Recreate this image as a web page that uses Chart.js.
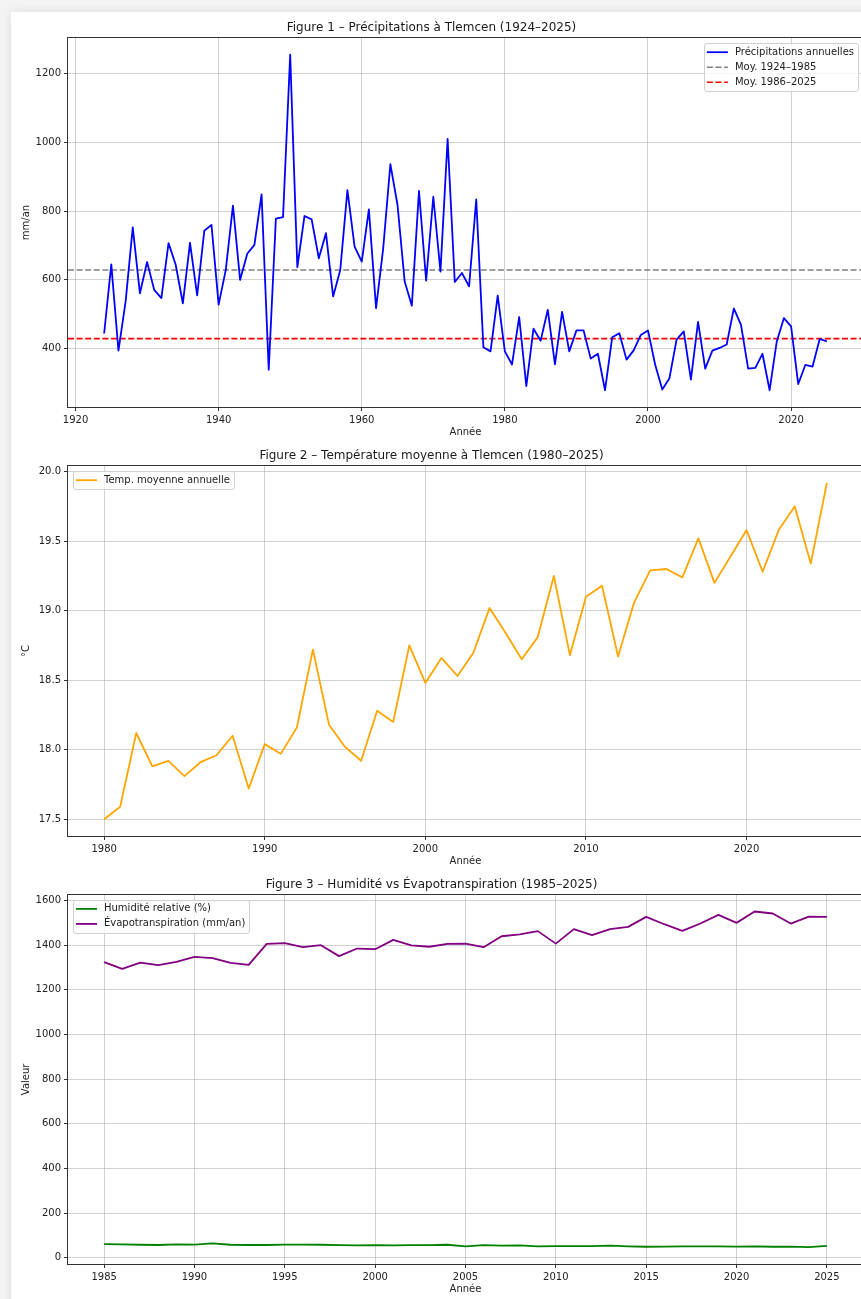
<!DOCTYPE html>
<html lang="fr">
<head>
<meta charset="utf-8">
<title>Climat de Tlemcen</title>
<script src="https://cdn.jsdelivr.net/npm/chart.js@4.4.1/dist/chart.umd.min.js"></script>
<style>
  html, body { margin: 0; padding: 0; width: 861px; height: 1299px; overflow: hidden; background: #f4f4f4; }
  .carte { position: absolute; left: 11px; top: 12px; width: 980px; height: 1400px; background: #fff; box-shadow: 0 0 10px rgba(0,0,0,0.10); }
  .bloc { position: absolute; left: 0; }
  canvas { display: block; }
</style>
</head>
<body>
<div class="carte"></div>
<div class="bloc" style="top:0px"><canvas id="graphPrecip" width="931" height="442"></canvas></div>
<div class="bloc" style="top:442px"><canvas id="graphTemp" width="931" height="429"></canvas></div>
<div class="bloc" style="top:870px"><canvas id="graphEvap" width="931" height="429"></canvas></div>

<script>
// Figure 1 - précipitations annuelles (mm/an)
const anneesPrecip = [
  1924, 1925, 1926, 1927, 1928, 1929, 1930, 1931, 1932, 1933,
  1934, 1935, 1936, 1937, 1938, 1939, 1940, 1941, 1942, 1943,
  1944, 1945, 1946, 1947, 1948, 1949, 1950, 1951, 1952, 1953,
  1954, 1955, 1956, 1957, 1958, 1959, 1960, 1961, 1962, 1963,
  1964, 1965, 1966, 1967, 1968, 1969, 1970, 1971, 1972, 1973,
  1974, 1975, 1976, 1977, 1978, 1979, 1980, 1981, 1982, 1983,
  1984, 1985, 1986, 1987, 1988, 1989, 1990, 1991, 1992, 1993,
  1994, 1995, 1996, 1997, 1998, 1999, 2000, 2001, 2002, 2003,
  2004, 2005, 2006, 2007, 2008, 2009, 2010, 2011, 2012, 2013,
  2014, 2015, 2016, 2017, 2018, 2019, 2020, 2021, 2022, 2023,
  2024, 2025
];
const precipitations = [
  444, 645, 394, 537, 753, 561, 652, 571, 547, 707,
  644, 532, 708, 555, 743, 760, 528, 629, 816, 600,
  676, 702, 849, 339, 778, 783, 1255, 637, 786, 776,
  663, 736, 552, 629, 861, 697, 653, 805, 518, 692,
  937, 818, 595, 525, 859, 598, 842, 624, 1010, 594,
  620, 581, 834, 404, 392, 554, 392, 354, 492, 291,
  458, 423, 513, 354, 507, 392, 453, 453, 371, 385,
  279, 433, 445, 368, 395, 440, 453, 354, 281, 314,
  426, 450, 310, 478, 342, 394, 402, 412, 517, 469,
  342, 344, 385, 279, 421, 489, 465, 297, 353, 348,
  428, 421
];
const moyenne1924_1985 = 629;
const moyenne1986_2025 = 429;
const ticksXPrecip = [1920, 1940, 1960, 1980, 2000, 2020];
const ticksYPrecip = [400, 600, 800, 1000, 1200];

// Figure 2 - température moyenne annuelle (°C)
const anneesTemp = [
  1980, 1981, 1982, 1983, 1984, 1985, 1986, 1987, 1988, 1989,
  1990, 1991, 1992, 1993, 1994, 1995, 1996, 1997, 1998, 1999,
  2000, 2001, 2002, 2003, 2004, 2005, 2006, 2007, 2008, 2009,
  2010, 2011, 2012, 2013, 2014, 2015, 2016, 2017, 2018, 2019,
  2020, 2021, 2022, 2023, 2024, 2025
];
const temperatures = [
  17.50, 17.59, 18.12, 17.88, 17.92, 17.81, 17.91, 17.96, 18.10, 17.72,
  18.04, 17.97, 18.16, 18.72, 18.18, 18.02, 17.92, 18.28, 18.20, 18.75,
  18.48, 18.66, 18.53, 18.70, 19.02, 18.84, 18.65, 18.81, 19.25, 18.68,
  19.10, 19.18, 18.67, 19.06, 19.29, 19.30, 19.24, 19.52, 19.20, 19.39,
  19.58, 19.28, 19.58, 19.75, 19.34, 19.92
];
const ticksXTemp = [1980, 1990, 2000, 2010, 2020];
const ticksYTemp = [17.5, 18.0, 18.5, 19.0, 19.5, 20.0];

// Figure 3 - humidité et évapotranspiration
const anneesEvap = [
  1985, 1986, 1987, 1988, 1989, 1990, 1991, 1992, 1993, 1994,
  1995, 1996, 1997, 1998, 1999, 2000, 2001, 2002, 2003, 2004,
  2005, 2006, 2007, 2008, 2009, 2010, 2011, 2012, 2013, 2014,
  2015, 2016, 2017, 2018, 2019, 2020, 2021, 2022, 2023, 2024,
  2025
];
const humidite = [
  61, 60, 58, 57, 60, 59, 64, 58, 57, 57,
  59, 59, 58, 56, 55, 56, 55, 56, 56, 58,
  51, 56, 54, 55, 51, 52, 52, 52, 54, 51,
  49, 50, 51, 51, 51, 50, 51, 49, 50, 47,
  53
];
const evapotranspiration = [
  1324, 1294, 1322, 1311, 1325, 1348, 1342, 1321, 1312, 1406,
  1409, 1391, 1400, 1351, 1385, 1382, 1424, 1399, 1393, 1406,
  1407, 1391, 1440, 1448, 1463, 1407, 1472, 1445, 1472, 1482,
  1527, 1494, 1464, 1497, 1536, 1500, 1551, 1542, 1497, 1528,
  1527
];
const ticksXEvap = [1985, 1990, 1995, 2000, 2005, 2010, 2015, 2020, 2025];
const ticksYEvap = [0, 200, 400, 600, 800, 1000, 1200, 1400, 1600];

Chart.defaults.font.family = "'DejaVu Sans', sans-serif";
Chart.defaults.color = '#222';

const couleurGrille = 'rgba(176, 176, 176, 0.6)';

const points = (xs, ys) => xs.map((x, i) => ({ x: x, y: ys[i] }));

// cadre noir autour de la zone de tracé
const cadre = {
  id: 'cadre',
  afterDraw(chart) {
    const { ctx, chartArea: a } = chart;
    ctx.save();
    ctx.strokeStyle = '#333';
    ctx.lineWidth = 1;
    ctx.strokeRect(Math.round(a.left) - 0.5, Math.round(a.top) - 0.5,
      Math.round(a.right - a.left) + 1, Math.round(a.bottom - a.top) + 1);
    ctx.restore();
  }
};

// légende dans la zone de tracé, comme matplotlib
const legendeInterne = {
  id: 'legendeInterne',
  afterDatasetsDraw(chart, args, opts) {
    const { ctx, chartArea } = chart;
    const items = chart.data.datasets;
    ctx.save();
    ctx.font = "10px 'DejaVu Sans'";
    const largeurTexte = Math.max(...items.map(d => ctx.measureText(d.label).width));
    const w = 31 + largeurTexte + 4;
    const h = 18.4 + (items.length - 1) * 15;
    const x = opts.position === 'droite' ? chartArea.right - 5 - w : chartArea.left + 5;
    const y = chartArea.top + 5;
    ctx.beginPath();
    ctx.roundRect(Math.round(x) + 0.5, Math.round(y) + 0.5, Math.round(w), Math.round(h), 2.5);
    ctx.fillStyle = 'rgba(255, 255, 255, 0.8)';
    ctx.fill();
    ctx.strokeStyle = '#d0d0d0';
    ctx.lineWidth = 1;
    ctx.stroke();
    items.forEach((d, i) => {
      const yc = y + 9.2 + i * 15;
      ctx.strokeStyle = d.borderColor;
      ctx.lineWidth = d.borderWidth;
      ctx.setLineDash(d.borderDash || []);
      ctx.beginPath();
      ctx.moveTo(x + 3, yc);
      ctx.lineTo(x + 24, yc);
      ctx.stroke();
      ctx.setLineDash([]);
      ctx.fillStyle = '#222';
      ctx.textBaseline = 'middle';
      ctx.fillText(d.label, x + 31, yc);
    });
    ctx.restore();
  }
};

function options(cfg) {
  return {
    responsive: false,
    animation: false,
    events: [],
    layout: { padding: { top: 0, left: 0, right: 68, bottom: 0 } },
    plugins: {
      legend: { display: false },
      tooltip: { enabled: false },
      title: {
        display: true,
        text: cfg.titre,
        color: '#1a1a1a',
        font: { size: 12, weight: 'normal' },
        padding: { top: cfg.titreHaut, bottom: 3 }
      },
      legendeInterne: { position: cfg.legende }
    },
    scales: {
      x: {
        type: 'linear',
        min: cfg.xMin,
        max: cfg.xMax,
        afterBuildTicks: axe => { axe.ticks = cfg.xTicks.map(v => ({ value: v })); },
        afterFit: axe => { axe.height = 35; },
        grid: { color: couleurGrille, tickColor: '#333', tickLength: 4 },
        border: { display: false },
        ticks: { font: { size: 10 }, padding: 3, maxRotation: 0, autoSkip: false, callback: v => String(v) },
        title: { display: true, text: 'Année', font: { size: 10 }, padding: { top: 0, bottom: 4 } }
      },
      y: {
        type: 'linear',
        min: cfg.yMin,
        max: cfg.yMax,
        afterBuildTicks: axe => { axe.ticks = cfg.yTicks.map(v => ({ value: v })); },
        afterFit: axe => { axe.width = 68; },
        grid: { color: couleurGrille, tickColor: '#333', tickLength: 4 },
        border: { display: false },
        ticks: { font: { size: 10 }, padding: 3, autoSkip: false, callback: cfg.format },
        title: { display: true, text: cfg.titreY, font: { size: 10 }, padding: { top: 20.5, bottom: 0 } }
      }
    }
  };
}

const ligne = (label, data, couleur, extra) => Object.assign({
  label: label,
  data: data,
  borderColor: couleur,
  borderWidth: 1.8,
  borderJoinStyle: 'round',
  pointRadius: 0,
  tension: 0,
  fill: false
}, extra || {});

const xMinPrecip = 1918.95, xMaxPrecip = 2030.05;

new Chart(document.getElementById('graphPrecip'), {
  type: 'line',
  data: {
    datasets: [
      ligne('Précipitations annuelles', points(anneesPrecip, precipitations), '#0000ff'),
      ligne('Moy. 1924–1985', [{ x: xMinPrecip, y: moyenne1924_1985 }, { x: xMaxPrecip, y: moyenne1924_1985 }], '#808080', { borderDash: [6, 2.6], borderWidth: 1.6 }),
      ligne('Moy. 1986–2025', [{ x: xMinPrecip, y: moyenne1986_2025 }, { x: xMaxPrecip, y: moyenne1986_2025 }], '#ff0000', { borderDash: [6, 2.6], borderWidth: 1.6 })
    ]
  },
  options: options({
    titre: 'Figure 1 – Précipitations à Tlemcen (1924–2025)',
    titreHaut: 20.6,
    legende: 'droite',
    xMin: xMinPrecip, xMax: xMaxPrecip, xTicks: ticksXPrecip,
    yMin: 230.2, yMax: 1303.8, yTicks: ticksYPrecip,
    titreY: 'mm/an',
    format: v => String(v)
  }),
  plugins: [legendeInterne, cadre]
});

new Chart(document.getElementById('graphTemp'), {
  type: 'line',
  data: {
    datasets: [
      ligne('Temp. moyenne annuelle', points(anneesTemp, temperatures), '#ffa500')
    ]
  },
  options: options({
    titre: 'Figure 2 – Température moyenne à Tlemcen (1980–2025)',
    titreHaut: 6.6,
    legende: 'gauche',
    xMin: 1977.75, xMax: 2027.25, xTicks: ticksXTemp,
    yMin: 17.379, yMax: 20.041, yTicks: ticksYTemp,
    titreY: '°C',
    format: v => v.toFixed(1)
  }),
  plugins: [legendeInterne, cadre]
});

new Chart(document.getElementById('graphEvap'), {
  type: 'line',
  data: {
    datasets: [
      ligne('Humidité relative (%)', points(anneesEvap, humidite), '#008000'),
      ligne('Évapotranspiration (mm/an)', points(anneesEvap, evapotranspiration), '#800080')
    ]
  },
  options: options({
    titre: 'Figure 3 – Humidité vs Évapotranspiration (1985–2025)',
    titreHaut: 7.3,
    legende: 'gauche',
    xMin: 1983, xMax: 2027, xTicks: ticksXEvap,
    yMin: -28.2, yMax: 1626.2, yTicks: ticksYEvap,
    titreY: 'Valeur',
    format: v => String(v)
  }),
  plugins: [legendeInterne, cadre]
});
</script>
</body>
</html>
